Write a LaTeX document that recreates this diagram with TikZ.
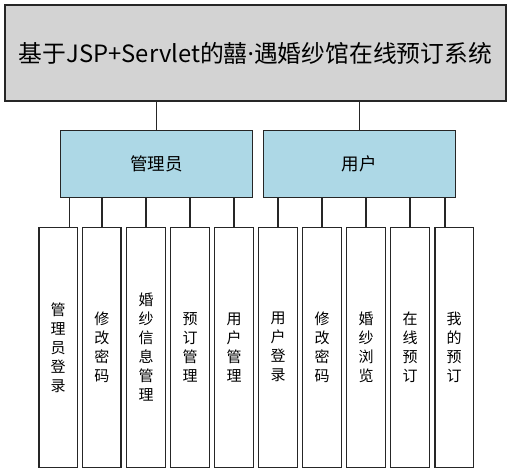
\documentclass[tikz,border=0pt]{standalone}
\usepackage{fontspec}
\setmainfont{Noto Sans CJK SC}
\newfontfamily\latinfont{Noto Sans}
\tikzset{
  framebox/.style={draw=black!85, line width=1.4pt, inner sep=0pt},
  titlebox/.style={framebox, fill={rgb,255:red,211;green,211;blue,211}, minimum width=501pt, minimum height=96pt, font=\fontsize{23.8}{26}\selectfont},
  rolebox/.style={framebox, fill={rgb,255:red,173;green,216;blue,230}, minimum width=192pt, minimum height=67pt, font=\fontsize{17.5}{20}\selectfont},
  leafbox/.style={framebox, fill=white, minimum width=38.6pt, minimum height=240pt, align=center, font=\fontsize{15}{19}\selectfont},
  link/.style={draw=black!85, line width=1.4pt}
}
\begin{document}
\begin{tikzpicture}[x=1pt,y=-1pt]
\useasboundingbox (0,0) rectangle (511,473);
\node[titlebox] (top) at (255.5,53) {基于JSP+Servlet的囍{\latinfont·}遇婚纱馆在线预订系统};
\node[rolebox] (admin) at (156.5,164.2) {管理员};
\node[rolebox] (user) at (359.3,164.2) {用户};
\node[leafbox] (c1) at (58.2,347.3) {管\\理\\员\\登\\录};
\node[leafbox] (c2) at (101.8,347.3) {修\\改\\密\\码};
\node[leafbox] (c3) at (146,347.3) {婚\\纱\\信\\息\\管\\理};
\node[leafbox] (c4) at (190,347.3) {预\\订\\管\\理};
\node[leafbox] (c5) at (234,347.3) {用\\户\\管\\理};
\node[leafbox] (c6) at (278,347.3) {用\\户\\登\\录};
\node[leafbox] (c7) at (322,347.3) {修\\改\\密\\码};
\node[leafbox] (c8) at (366,347.3) {婚\\纱\\浏\\览};
\node[leafbox] (c9) at (410,347.3) {在\\线\\预\\订};
\node[leafbox] (c10) at (454.2,347.3) {我\\的\\预\\订};
\draw[link] (admin.north) -- (admin.north |- top.south);
\draw[link] (user.north) -- (user.north |- top.south);
\draw[link] ([xshift=11.1pt]c1.north) -- ([xshift=11.1pt]c1.north |- admin.south);
\foreach \c in {c2,c3,c4,c5}{\draw[link] (\c.north) -- (\c.north |- admin.south);}
\foreach \c in {c6,c7,c8,c9}{\draw[link] (\c.north) -- (\c.north |- user.south);}
\draw[link] ([xshift=-9.2pt]c10.north) -- ([xshift=-9.2pt]c10.north |- user.south);
\end{tikzpicture}
\end{document}
